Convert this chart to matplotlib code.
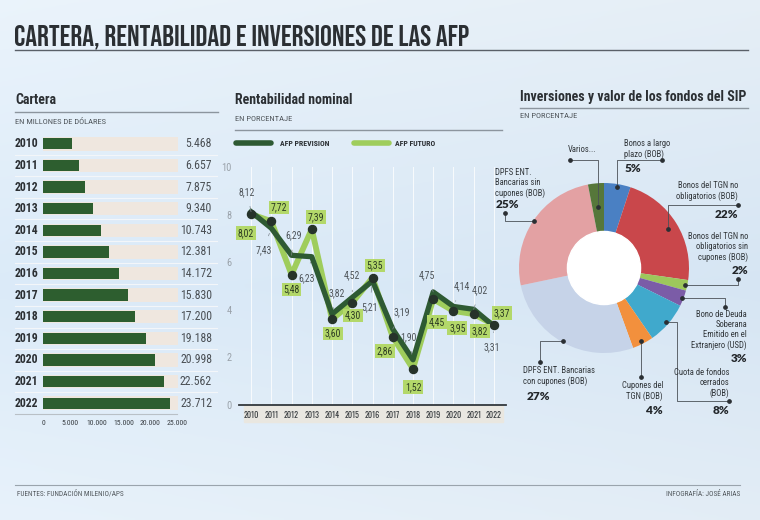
import numpy as np
import matplotlib
matplotlib.use("Agg")
import matplotlib.pyplot as plt
from matplotlib.lines import Line2D
from matplotlib.patches import Rectangle, Circle
from matplotlib.ticker import FuncFormatter
from matplotlib import font_manager

# ---------------- data ----------------
years_bar = ["2010", "2011", "2012", "2013", "2014", "2015", "2016",
             "2017", "2018", "2019", "2020", "2021", "2022"]
cartera = [5468, 6657, 7875, 9340, 10743, 12381, 14172,
           15830, 17200, 19188, 20998, 22562, 23712]
bar_ticks = [0, 5000, 10000, 15000, 20000, 25000]

years_line = [2010, 2011, 2012, 2013, 2014, 2015, 2016,
              2017, 2018, 2019, 2020, 2021, 2022]
prevision = [8.12, 7.43, 6.29, 6.23, 3.82, 4.52, 5.21,
             3.19, 1.90, 4.75, 4.14, 4.02, 3.31]
futuro = [8.02, 7.72, 5.48, 7.39, 3.60, 4.30, 5.35,
          2.86, 1.52, 4.45, 3.95, 3.82, 3.37]
line_yticks = [0, 2, 4, 6, 8, 10]

pie_labels = ["Bonos a largo\nplazo (BOB)",
              "Bonos del TGN no\nobligatorios (BOB)",
              "Bonos del TGN no\nobligatorios sin\ncupones (BOB)",
              "Bono de Deuda\nSoberana\nEmitido en el\nExtranjero (USD)",
              "Cuota de fondos\ncerrados\n(BOB)",
              "Cupones del\nTGN (BOB)",
              "DPFS ENT. Bancarias\ncon cupones (BOB)",
              "DPFS ENT.\nBancarias sin\ncupones (BOB)",
              "Varios..."]
pie_values = [5, 22, 2, 3, 8, 4, 27, 25, 3]
pie_pct = ["5%", "22%", "2%", "3%", "8%", "4%", "27%", "25%", ""]

# ---------------- style ----------------
avail = {f.name for f in font_manager.fontManager.ttflist}


def fam(*names):
    lst = [n for n in names if n in avail]
    return lst + ["DejaVu Sans"]


COND = fam("Roboto Condensed", "PT Sans Narrow")
TITLE = fam("Bebas Neue", "Oswald", "Roboto Condensed")
NARROW = fam("Oswald", "Roboto Condensed")
PCT = fam("Lato", "Roboto")
plt.rcParams["font.family"] = COND

DARK = "#2e5a33"
LIGHT = "#9fcd5c"
TXT = "#2b2f33"
GREY = "#51575c"

W, H = 760, 520
fig = plt.figure(figsize=(W / 100, H / 100), dpi=100)

# background gradient
bg = fig.add_axes([0, 0, 1, 1], zorder=-10)
yy, xx = np.mgrid[0:1:200j, 0:1:300j]
c_top = np.array([0.90, 0.935, 0.965])
c_mid = np.array([0.84, 0.90, 0.955])
t = np.clip(1 - np.abs(yy - 0.55) / 0.55, 0, 1)[..., None]
img = c_top * (1 - t) + c_mid * t
img = img + (0.02 * (1 - xx))[..., None]
bg.imshow(np.clip(img, 0, 1), aspect="auto", extent=[0, 1, 0, 1])
bg.axis("off")

# overlay for text / rules in pixel coordinates
ov = fig.add_axes([0, 0, 1, 1], zorder=5)
ov.set_xlim(0, W)
ov.set_ylim(H, 0)
ov.axis("off")
ov.patch.set_alpha(0)

ov.text(14, 36.5, "CARTERA, RENTABILIDAD E INVERSIONES DE LAS AFP",
        fontsize=21.2, color=TXT, va="center", ha="left", family=TITLE)
ov.plot([15, 748], [50, 50], color="#5a6068", lw=1.0)
ov.plot([15, 740], [485, 485], color="#9aa4ad", lw=0.8)
ov.text(17, 494, "FUENTES: FUNDACIÓN MILENIO/APS", fontsize=5.2, color=GREY, va="center")
ov.text(740, 494, "INFOGRAFÍA: JOSÉ ARIAS", fontsize=5.2, color=GREY, va="center", ha="right")

# section headings
ov.text(15, 100, "Cartera", fontsize=10, fontweight="bold", color=TXT, va="center")
ov.plot([15, 218], [112, 112], color="#8c959e", lw=1.0)
ov.text(15, 121, "EN MILLONES DE DÓLARES", fontsize=6.1, color=GREY, va="center")

ov.text(235, 100, "Rentabilidad nominal", fontsize=10, fontweight="bold", color=TXT, va="center")
ov.text(235, 119, "EN PORCENTAJE", fontsize=6.1, color=GREY, va="center")
ov.plot([235, 502], [130, 130], color="#8c959e", lw=1.0)

ov.text(520, 97, "Inversiones y valor de los fondos del SIP", fontsize=10,
        fontweight="bold", color=TXT, va="center")
ov.plot([520, 748], [108, 108], color="#8c959e", lw=1.0)
ov.text(520, 116, "EN PORCENTAJE", fontsize=6.1, color=GREY, va="center")

# ---------------- bar chart ----------------
axb = fig.add_axes([43 / W, 1 - 414 / H, 135 / W, 281 / H])
axb.patch.set_alpha(0)
XMAX = 25200
ypos = np.arange(len(years_bar))
axb.barh(ypos, [XMAX] * len(ypos), height=0.62, color="#efe7df", zorder=1)
axb.barh(ypos, cartera, height=0.52, color="#2d5e2f", zorder=2)
axb.set_xlim(0, XMAX)
axb.set_ylim(len(ypos) - 0.5, -0.5)
axb.set_yticks([])
axb.set_xticks(bar_ticks)
axb.xaxis.set_major_formatter(FuncFormatter(lambda v, p: f"{int(v):,}".replace(",", ".")))
axb.tick_params(axis="x", length=0, labelsize=5.6, labelcolor="#3a3f44", pad=4)
for s in axb.spines.values():
    s.set_visible(False)
tr = axb.get_yaxis_transform()
for i, (yr, v) in enumerate(zip(years_bar, cartera)):
    axb.text(-0.207, i, yr, transform=tr, ha="left", va="center", fontsize=8.5,
             fontweight="bold", color=TXT, clip_on=False)
    axb.text(1.252, i, f"{v:,}".replace(",", "."), transform=tr, ha="right",
             va="center", fontsize=8.5, color="#4a4f54", clip_on=False)
    if i < len(ypos) - 1:
        axb.add_line(Line2D([-0.207, 1.29], [i + 0.5, i + 0.5], transform=tr,
                            color="#f3f6f9", lw=0.8, clip_on=False, zorder=0))
axb.add_line(Line2D([-0.207, 0.995], [0, 0], transform=axb.transAxes,
                    color="#b9c0c6", lw=0.8, clip_on=False))

# ---------------- line chart ----------------
axl = fig.add_axes([238.9 / W, 1 - 405 / H, 267.2 / W, 238 / H])
axl.patch.set_alpha(0)
axl.set_xlim(2009.4, 2022.6)
axl.set_ylim(0, 10)
axl.set_xticks(years_line)
axl.set_yticks(line_yticks)
axl.tick_params(axis="x", length=0, labelsize=5.8, labelcolor="#33383c", pad=4)
axl.tick_params(axis="y", length=0, labelsize=7.5, labelcolor="#9aa2aa", pad=5)
for lab in axl.get_xticklabels():
    lab.set_fontweight("bold")
    lab.set_family(NARROW)
for k in ["top", "right", "left"]:
    axl.spines[k].set_visible(False)
axl.spines["bottom"].set_color("#33383c")
axl.spines["bottom"].set_linewidth(1.3)
axl.grid(axis="x", color="white", lw=0.7, alpha=0.8)
axl.add_patch(Rectangle((0.02, -0.072), 0.97, 0.066, transform=axl.transAxes,
                        color="#ebe7df", alpha=0.9, clip_on=False, zorder=0))

axl.plot(years_line, futuro, color=LIGHT, lw=4.2, solid_joinstyle="round", zorder=3)
axl.plot(years_line, prevision, color=DARK, lw=3.8, solid_joinstyle="round", zorder=4)
axl.plot(years_line, futuro, "o", color="#26332a", ms=5.8, zorder=5)

prev_off = [(-4, 20), (-8, -22), (2, 20), (-5, -21), (5, 21), (0, 22), (-3, -26),
            (9, 17), (-5, 23), (-6, 17), (8, 20), (6, 19), (-2, -21)]
fut_off = [(-5, -19), (8, 14), (0, -15), (4, 12), (1, -14), (1, -13), (2, 12),
           (-8, -14), (0, -18), (4, -23), (4, -17), (6, -17), (8, 12)]
for x, v, o in zip(years_line, prevision, prev_off):
    axl.annotate(f"{v:.2f}".replace(".", ","), (x, v), xytext=o,
                 textcoords="offset pixels", ha="center", va="center",
                 fontsize=7, color="#4d5358", zorder=6,
                 arrowprops=dict(arrowstyle="-", color="#7d858c", lw=0.5,
                                 shrinkA=5, shrinkB=4))
for x, v, o in zip(years_line, futuro, fut_off):
    axl.annotate(f"{v:.2f}".replace(".", ","), (x, v), xytext=o,
                 textcoords="offset pixels", ha="center", va="center",
                 fontsize=7, color="#2b3a22", zorder=7,
                 bbox=dict(boxstyle="square,pad=0.18", fc="#b3d86a", ec="none"))

# legend
ov.plot([236, 271], [143, 143], color=DARK, lw=4, solid_capstyle="round")
ov.text(280, 143, "AFP PREVISION", fontsize=5.6, fontweight="bold", color=TXT, va="center")
ov.plot([354, 389], [143, 143], color=LIGHT, lw=4, solid_capstyle="round")
ov.text(395, 143, "AFP FUTURO", fontsize=5.6, fontweight="bold", color=TXT, va="center")

# ---------------- donut ----------------
axp = fig.add_axes([519 / W, 1 - 353 / H, 170 / W, 170 / H])
axp.patch.set_alpha(0)
pie_colors = ["#4a80c3", "#c9474b", "#9dc75b", "#7b5ca7", "#40a9cc",
              "#f2903d", "#c6d3e8", "#e3a1a3", "#56773a"]
wedges, _ = axp.pie(pie_values, colors=pie_colors, startangle=90, counterclock=False,
                    radius=1, wedgeprops=dict(width=0.58, edgecolor="none"))
axp.add_patch(Circle((0, 0), 0.43, color="white", zorder=3))
axp.set_xlim(-1, 1)
axp.set_ylim(-1, 1)
axp.set_aspect("equal")
axp.axis("off")


def anchor(w, r):
    th = np.deg2rad((w.theta1 + w.theta2) / 2)
    px, py = axp.transData.transform((r * np.cos(th), r * np.sin(th)))
    return px, H - py


# (anchor radius, route, end point, text pos, ha, pct pos)
pie_layout = [
    (0.96, "vh", (662, 160), (624, 149), "left", (625, 169)),
    (0.88, "vh", (738, 205), (738, 191), "right", (738, 214)),
    (0.97, "hv", (738, 279), (748, 247), "right", (748, 270)),
    (0.98, "hv", (725, 307), (747, 330), "right", (747, 359)),
    (0.97, "hvh", (729, 401), (729, 383), "right", (729, 410)),
    (0.96, "v", (None, 377), (663, 391), "right", (663, 410)),
    (0.98, "hv", (540, 362), (523, 376), "left", (527, 396)),
    (0.99, "hv", (505, 213), (495, 183), "left", (496, 205)),
    (0.72, "vh", (570, 160), (568, 150), "left", None),
]
for w, lab, pct, (r, route, end, tpos, ha, ppos) in zip(wedges, pie_labels, pie_pct, pie_layout):
    ax0, ay0 = anchor(w, r)
    ex, ey = end
    if route == "vh":
        xs, ys = [ax0, ax0, ex], [ay0, ey, ey]
    elif route == "hv":
        xs, ys = [ax0, ex, ex], [ay0, ay0, ey]
    elif route == "hvh":
        mx = ax0 + 11
        xs, ys = [ax0, mx, mx, ex], [ay0, ay0, ey, ey]
    else:
        ex = ax0
        xs, ys = [ax0, ax0], [ay0, ey]
    ov.plot(xs, ys, color="#4a5056", lw=0.6)
    ov.plot([ax0, ex], [ay0, ey], "o", color="#2a2f33", ms=2.4, lw=0)
    ov.text(tpos[0], tpos[1], lab, ha=ha, va="center", fontsize=6.2, color="#33383c",
            linespacing=1.2, multialignment=ha)
    if ppos is not None and pct:
        ov.text(ppos[0], ppos[1], pct, ha=ha, va="center", fontsize=8.5,
                fontweight="heavy", color="#22262a", family=PCT)

fig.savefig("out.png", dpi=100)
